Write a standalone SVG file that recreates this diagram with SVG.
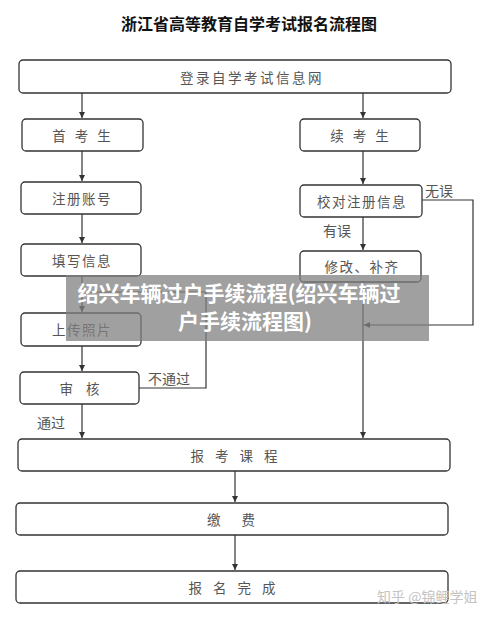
<svg xmlns="http://www.w3.org/2000/svg" width="497" height="618" viewBox="0 0 497 618">
<style>
.box{fill:#fff;stroke:#333;stroke-width:1.3}
.t{font-family:"Noto Sans CJK SC","Liberation Sans",sans-serif;font-size:13.5px;fill:#555;text-anchor:middle;dominant-baseline:central}
.lbl{font-family:"Noto Sans CJK SC","Liberation Sans",sans-serif;font-size:14px;fill:#555;dominant-baseline:central}
.ln{fill:none;stroke:#333;stroke-width:1.2}
.bt{font-family:"Noto Sans CJK SC","Liberation Sans",sans-serif;font-size:21px;font-weight:bold;fill:#fff;text-anchor:middle}
</style>
<defs>
<marker id="ah" markerWidth="8" markerHeight="8" refX="6" refY="3" orient="auto" markerUnits="userSpaceOnUse">
<path d="M0,0 L6,3 L0,6 Z" fill="#333"/>
</marker>
</defs>
<rect width="497" height="618" fill="#fff"/>
<text x="249" y="30" style="font-family:'Noto Sans CJK SC','Liberation Sans',sans-serif;font-size:16px;font-weight:bold;fill:#111;text-anchor:middle">浙江省高等教育自学考试报名流程图</text>

<g id="connectors">
<line class="ln" x1="82" y1="93" x2="82" y2="118" marker-end="url(#ah)"/>
<line class="ln" x1="363" y1="93" x2="363" y2="118" marker-end="url(#ah)"/>
<line class="ln" x1="82" y1="151" x2="82" y2="181" marker-end="url(#ah)"/>
<line class="ln" x1="82" y1="214" x2="82" y2="243" marker-end="url(#ah)"/>
<line class="ln" x1="82" y1="276" x2="82" y2="312" marker-end="url(#ah)"/>
<line class="ln" x1="82" y1="346" x2="82" y2="371" marker-end="url(#ah)"/>
<line class="ln" x1="82" y1="404" x2="82" y2="438" marker-end="url(#ah)"/>
<path class="ln" d="M139 388 H206 V292 H82"/>
<line class="ln" x1="363" y1="151" x2="363" y2="184" marker-end="url(#ah)"/>
<line class="ln" x1="363" y1="217" x2="363" y2="250" marker-end="url(#ah)"/>
<path class="ln" d="M422 200 H473 V325 H364" marker-end="url(#ah)"/>
<line class="ln" x1="363" y1="282" x2="363" y2="438" marker-end="url(#ah)"/>
<line class="ln" x1="235" y1="471" x2="235" y2="502" marker-end="url(#ah)"/>
<line class="ln" x1="235" y1="535" x2="235" y2="570" marker-end="url(#ah)"/>
<text class="lbl" x="148" y="378">不通过</text>
<text class="lbl" x="37" y="422">通过</text>
<text class="lbl" x="425" y="190">无误</text>
<text class="lbl" x="323" y="230">有误</text>
</g>

<g id="n-login"><rect class="box" x="19" y="60" width="432" height="33" rx="4"/><text class="t" x="252" y="77" letter-spacing="2.5">登录自学考试信息网</text></g>
<g id="n-first"><rect class="box" x="22" y="119" width="121" height="32" rx="4"/><text class="t" x="83" y="135" letter-spacing="3">首 考 生</text></g>
<g id="n-cont"><rect class="box" x="300" y="119" width="120" height="32" rx="4"/><text class="t" x="361" y="135" letter-spacing="3">续 考 生</text></g>
<g id="n-reg"><rect class="box" x="21" y="182" width="120" height="32" rx="4"/><text class="t" x="82" y="198" letter-spacing="1.5">注册账号</text></g>
<g id="n-check"><rect class="box" x="300" y="185" width="122" height="32" rx="4"/><text class="t" x="362" y="201" letter-spacing="1.5">校对注册信息</text></g>
<g id="n-fill"><rect class="box" x="21" y="244" width="120" height="32" rx="4"/><text class="t" x="82" y="260" letter-spacing="1.5">填写信息</text></g>
<g id="n-fix"><rect class="box" x="300" y="251" width="121" height="31" rx="4"/><text class="t" x="362" y="266" letter-spacing="1.5">修改、补齐</text></g>
<g id="n-photo"><rect class="box" x="21" y="313" width="120" height="33" rx="4"/><text class="t" x="82" y="329" letter-spacing="1.5">上传照片</text></g>
<g id="n-audit"><rect class="box" x="20" y="372" width="119" height="32" rx="4"/><text class="t" x="82" y="388" letter-spacing="5">审 核</text></g>
<g id="n-course"><rect class="box" x="18" y="439" width="432" height="32" rx="4"/><text class="t" x="236" y="455" letter-spacing="4">报 考 课 程</text></g>
<g id="n-fee"><rect class="box" x="16" y="503" width="432" height="32" rx="4"/><text class="t" x="231" y="519" xml:space="preserve">缴       费</text></g>
<g id="n-done"><rect class="box" x="16" y="571" width="432" height="32" rx="4"/><text class="t" x="234" y="587" letter-spacing="4">报 名 完 成</text></g>

<text x="377" y="602" style="font-family:'Noto Sans CJK SC','Liberation Sans',sans-serif;font-size:14px;fill:#c4c4c4">知乎 @锦鲤学姐</text>

<g id="banner">
<rect x="66" y="275" width="363" height="66" fill="#808080" fill-opacity="0.75"/>
<text class="bt" x="239" y="301">绍兴车辆过户手续流程(绍兴车辆过</text>
<text class="bt" x="245" y="329">户手续流程图)</text>
</g>
</svg>
